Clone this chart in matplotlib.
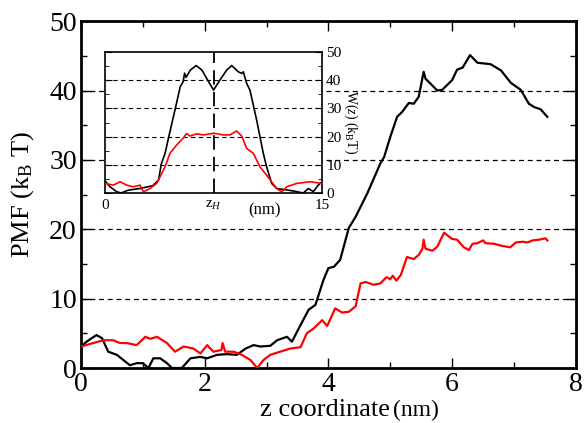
import matplotlib
matplotlib.use("Agg")
import matplotlib.pyplot as plt
from matplotlib.ticker import MultipleLocator

plt.rcParams['font.family'] = ['Liberation Serif', 'DejaVu Serif']
plt.rcParams['mathtext.fontset'] = 'custom'
plt.rcParams['mathtext.rm'] = 'Liberation Serif'
plt.rcParams['mathtext.it'] = 'Liberation Serif:italic'

# ---- main panel data ----
black_x = [0.0, 0.09, 0.25, 0.34, 0.44, 0.58, 0.79, 0.9, 1.0, 1.09, 1.17, 1.28, 1.39, 1.47, 1.63,
           1.77, 1.93, 2.04, 2.2, 2.36, 2.52, 2.66, 2.79, 2.9, 3.06, 3.17, 3.33, 3.41, 3.55, 3.68,
           3.79, 3.92, 4.0, 4.09, 4.19, 4.33, 4.44, 4.63, 4.84, 4.9, 5.0, 5.11, 5.19, 5.3, 5.38,
           5.46, 5.54, 5.57, 5.65, 5.76, 5.84, 6.0, 6.08, 6.17, 6.29, 6.41, 6.62, 6.79, 6.95,
           7.11, 7.24, 7.33, 7.43, 7.54]
black_y = [3.1, 3.8, 4.75, 4.3, 2.35, 1.9, 0.4, 0.7, 0.7, 0.0, 1.4, 1.4, 0.7, 0.0, 0.0,
           1.4, 1.6, 1.4, 1.9, 2.0, 1.9, 2.8, 3.3, 3.1, 3.2, 4.0, 4.5, 3.8, 6.2, 8.4,
           9.1, 12.7, 14.4, 14.6, 15.6, 20.2, 21.8, 25.2, 29.5, 30.4, 33.3, 36.2, 36.9, 38.2, 38.1,
           39.1, 42.7, 41.7, 41.0, 40.0, 40.1, 41.5, 43.0, 43.3, 45.1, 44.0, 43.8, 42.9, 41.1,
           40.1, 38.1, 37.6, 37.3, 36.2]

red_x = [0.0, 0.2, 0.36, 0.52, 0.63, 0.74, 0.9, 1.04, 1.12, 1.23, 1.39, 1.52, 1.66, 1.82, 1.93,
         2.04, 2.14, 2.27, 2.29, 2.33, 2.47, 2.6, 2.74, 2.85, 2.95, 3.06, 3.22, 3.38, 3.55, 3.65,
         3.76, 3.9, 3.98, 4.11, 4.22, 4.33, 4.44, 4.52, 4.6, 4.73, 4.84, 4.94, 5.0, 5.04, 5.1,
         5.17, 5.27, 5.38, 5.46, 5.52, 5.54, 5.57, 5.68, 5.76, 5.87, 6.0, 6.08, 6.19, 6.27, 6.33,
         6.41, 6.5, 6.54, 6.68, 6.81, 6.94, 7.03, 7.14, 7.22, 7.3, 7.41, 7.51, 7.54]
red_y = [3.1, 3.6, 4.0, 4.0, 3.6, 3.6, 3.3, 4.5, 4.2, 4.5, 3.6, 2.35, 3.1, 2.8, 2.1,
         3.3, 2.35, 2.6, 3.6, 2.35, 2.35, 1.9, 1.15, 0.0, 1.15, 1.9, 2.35, 2.8, 3.0, 5.0,
         5.7, 6.9, 6.05, 8.6, 8.0, 8.1, 8.9, 12.2, 12.4, 12.0, 12.2, 13.1, 12.8, 13.3, 12.6,
         13.4, 16.0, 15.7, 16.3, 17.2, 18.5, 17.2, 16.9, 17.5, 19.5, 18.6, 18.5, 17.4, 17.0, 17.9,
         18.0, 18.4, 18.0, 17.9, 17.6, 17.4, 18.1, 18.2, 18.1, 18.4, 18.5, 18.7, 18.4]

main_xticks = [0, 2, 4, 6, 8]
main_yticks = [0, 10, 20, 30, 40, 50]

# ---- inset data ----
in_black_x = [0.0, 0.35, 0.8, 1.1, 1.6, 2.4, 3.3, 3.7, 3.9, 4.15, 4.5, 4.95, 5.2, 5.4, 5.5, 5.6,
              5.9, 6.3, 6.7, 7.1, 7.5, 7.95, 8.41, 8.76, 9.21, 9.45, 9.56, 9.79, 10.02, 10.48,
              10.94, 11.17, 11.52, 11.87, 12.56, 13.25, 13.7, 14.05, 14.4, 14.74, 15.0]
in_black_y = [4.3, 2.2, 0.5, 0.0, 1.0, 1.6, 2.6, 4.6, 10.5, 14.0, 22.0, 32.0, 37.7, 39.5, 42.5, 41.0,
              43.6, 45.2, 43.6, 40.0, 36.5, 40.1, 43.6, 45.2, 43.0, 42.4, 43.0, 38.9, 36.5, 25.9,
              14.1, 9.3, 3.4, 1.6, 1.1, 0.5, 0.0, 1.6, 0.5, 2.8, 4.0]

in_red_x = [0.0, 0.58, 1.04, 1.5, 1.96, 2.42, 2.65, 3.11, 3.57, 3.92, 4.15, 4.49, 4.95, 5.41, 5.64,
            5.87, 6.34, 6.8, 7.53, 8.18, 8.64, 9.1, 9.45, 9.79, 10.25, 10.71, 11.17, 11.87, 12.21,
            12.56, 13.25, 14.17, 15.0]
in_red_y = [3.4, 2.8, 4.0, 2.8, 2.2, 2.8, 0.4, 1.6, 3.4, 6.9, 9.3, 14.1, 17.0, 19.5, 21.1,
            20.2, 21.0, 20.6, 21.2, 20.6, 20.6, 22.0, 20.2, 15.8, 14.1, 9.3, 6.3, 1.6, 0.4,
            2.2, 3.4, 4.0, 3.4]

inset_xticks = [0, 7.5, 15]
inset_xticklabels = ["0", r"z$_{H}$", "15"]
inset_yticks = [0, 10, 20, 30, 40, 50]

fig = plt.figure(figsize=(5.84, 4.23), dpi=100)
ax = fig.add_axes([0.1387, 0.130, 0.8473, 0.820])

for yv in [0, 10, 20, 30, 40]:
    ax.axhline(yv, color='black', lw=0.9, ls=(0, (4, 3)), zorder=1)

ax.plot(black_x, black_y, color='black', lw=1.6, zorder=3)
ax.plot(red_x, red_y, color='red', lw=1.6, zorder=3)

ax.set_xlim(0, 8)
ax.set_ylim(0, 50)
ax.set_xticks(main_xticks)
ax.set_yticks(main_yticks)
ax.xaxis.set_minor_locator(MultipleLocator(1))
ax.yaxis.set_minor_locator(MultipleLocator(5))
ax.tick_params(which='both', direction='in', top=True, right=True, labelsize=20, width=1)
ax.tick_params(which='major', length=7)
ax.tick_params(axis='x', which='major', pad=3)
ax.tick_params(axis='y', which='major', pad=3)
ax.tick_params(which='minor', length=4)
for s in ax.spines.values():
    s.set_linewidth(2)
ax.set_ylabel(r"PMF (k$_\mathregular{B}$ T)", fontsize=19)
ax.yaxis.set_label_coords(-0.09, 0.5)

# x label: larger "z coordinate", smaller "(nm)"
base_y = 1 - 416 / 423
t1 = fig.text(260 / 584, base_y, "z coordinate", fontsize=19, ha='left', va='baseline')
fig.canvas.draw()
bb = t1.get_window_extent()
fig.text((bb.x1 + 3) / fig.bbox.width, base_y, "(nm)", fontsize=17, ha='left', va='baseline')

# ---- inset ----
ins = fig.add_axes([0.1798, 0.5437, 0.3716, 0.3333])
for yv in [10, 20, 30, 40]:
    ins.axhline(yv, color='black', lw=0.8, ls=(0, (4, 3)), zorder=1)
ins.axvline(7.5, color='black', lw=1.3, ls=(0, (8, 4)), zorder=2)
ins.plot(in_black_x, in_black_y, color='black', lw=1.2, zorder=3)
ins.plot(in_red_x, in_red_y, color='red', lw=1.2, zorder=3)
ins.set_xlim(0, 15)
ins.set_ylim(0, 50)
ins.set_xticks(inset_xticks)
ins.set_xticklabels(inset_xticklabels)
ins.set_yticks(inset_yticks)
ins.yaxis.set_minor_locator(MultipleLocator(5))
ins.yaxis.tick_right()
ins.yaxis.set_label_position('right')
ins.tick_params(axis='x', which='both', length=0, labelsize=11, pad=4)
ins.tick_params(axis='y', which='both', direction='in', left=True, right=True, labelsize=11, pad=3)
ins.tick_params(axis='y', which='major', length=5)
ins.tick_params(axis='y', which='minor', length=3)
for s in ins.spines.values():
    s.set_linewidth(1.2)
ins.text(11.0, -3.5, "(nm)", fontsize=12, ha='center', va='top')
ins.set_ylabel(r"W($z$) (k$_\mathregular{B}$T)", fontsize=10, rotation=270, labelpad=13)

fig.savefig("out.png", dpi=100)
